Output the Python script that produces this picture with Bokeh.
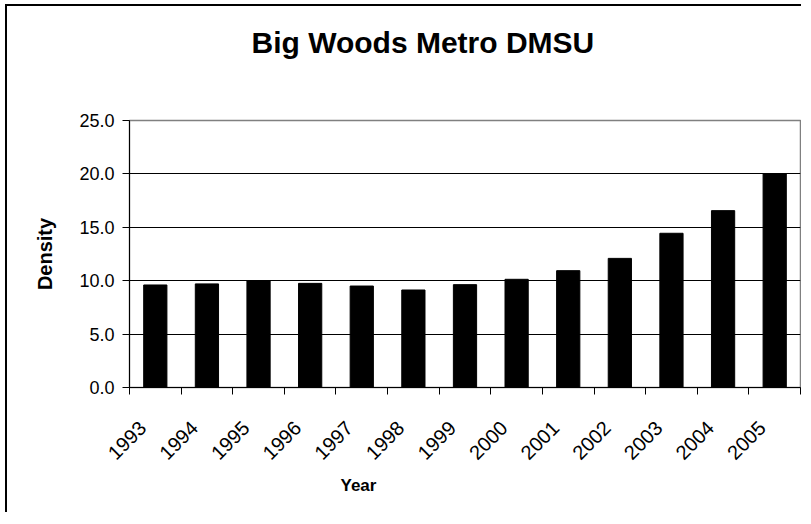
from math import pi
from bokeh.plotting import figure
from bokeh.models import Range1d, LinearAxis, FixedTicker, NumeralTickFormatter, Title
from bokeh.embed import file_html
from bokeh.resources import INLINE

# ---- data ----
years = [1993, 1994, 1995, 1996, 1997, 1998, 1999, 2000, 2001, 2002, 2003, 2004, 2005]
density = [9.6, 9.7, 10.0, 9.75, 9.5, 9.13, 9.63, 10.13, 10.94, 12.09, 14.44, 16.56, 20.0]
y_ticks = [0, 5, 10, 15, 20, 25]
title_text = "Big Woods Metro DMSU"
x_label = "Year"
y_label = "Density"

FONT = "Liberation Sans"
shift = 0.244  # label anchor shift (in category widths)

p = figure(width=796, height=508, output_backend="svg", toolbar_location=None,
           x_range=Range1d(years[0] - 0.5, years[-1] + 0.5),
           y_range=Range1d(y_ticks[0], y_ticks[-1]),
           x_axis_location=None,
           min_border_left=122, min_border_right=3, min_border_top=114, min_border_bottom=127)

p.vbar(x=years, top=density, width=0.45, fill_color="black", line_color="black")

# frame / grid
p.outline_line_color = "#808080"
p.outline_line_width = 1.5
p.xgrid.visible = False
p.ygrid.ticker = FixedTicker(ticks=y_ticks[1:-1])
p.ygrid.grid_line_color = "black"
p.ygrid.grid_line_width = 1

# y axis
ya = p.yaxis[0]
ya.ticker = FixedTicker(ticks=y_ticks)
ya.formatter = NumeralTickFormatter(format="0.0")
ya.major_tick_out = 7
ya.major_tick_in = 0
ya.minor_tick_out = 0
ya.minor_tick_in = 0
ya.axis_line_color = "black"
ya.major_tick_line_color = "black"
ya.major_label_text_font = FONT
ya.major_label_text_font_size = "18px"
ya.major_label_text_color = "black"
ya.major_label_standoff = 8
ya.axis_label = y_label
ya.axis_label_text_font = FONT
ya.axis_label_text_font_size = "20px"
ya.axis_label_text_font_style = "bold"
ya.axis_label_text_color = "black"
ya.axis_label_standoff = 20

# x axis (labels shifted, ticks at category boundaries)
p.extra_x_ranges = {"lbl": Range1d(years[0] - 0.5 + shift, years[-1] + 0.5 + shift)}
bounds = [y - 0.5 + shift for y in years] + [years[-1] + 0.5 + shift]
xa = LinearAxis(x_range_name="lbl", ticker=FixedTicker(ticks=years, minor_ticks=bounds))
xa.major_label_orientation = pi / 4
xa.major_tick_out = 0
xa.major_tick_in = 0
xa.minor_tick_out = 7
xa.minor_tick_in = 0
xa.axis_line_color = "black"
xa.minor_tick_line_color = "black"
xa.major_label_text_font = FONT
xa.major_label_text_font_size = "20px"
xa.major_label_text_color = "black"
xa.major_label_standoff = 30
p.add_layout(xa, "below")

# titles (spacer first = nearest the frame)
spacer = Title(text=" ", standoff=58, text_font=FONT, text_font_size="2px")
p.add_layout(spacer, "above")
t = Title(text=title_text, align="left", offset=122, standoff=0,
          text_font=FONT, text_font_size="30px", text_font_style="bold", text_color="black")
p.add_layout(t, "above")
yt = Title(text=x_label, align="left", offset=211, standoff=10,
           text_font=FONT, text_font_size="17px", text_font_style="bold", text_color="black")
p.add_layout(yt, "below")

p.styles = {"border-left": "2px solid black", "border-top": "2px solid black",
            "margin-left": "5px", "margin-top": "4px"}

open("out.html", "w").write(file_html(p, INLINE))
